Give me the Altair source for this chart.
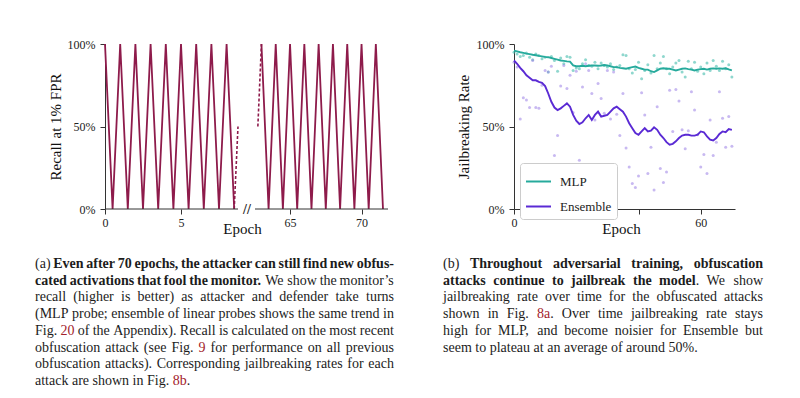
import altair as alt
import pandas as pd

# ------------------------------------------------------------------ data
# (a) recall zig-zag (broken x axis)
A_LEFT_EPOCH = [0, 0.5, 1, 1.5, 2, 2.5, 3, 3.5, 4, 4.5, 5, 5.5, 6, 6.5, 7, 7.5, 8, 8.5]
A_LEFT_RECALL = [100, 0, 100, 0, 100, 0, 100, 0, 100, 0, 100, 0, 100, 0, 100, 0, 100, 0]
A_RIGHT_EPOCH = [63, 63.5, 64, 64.5, 65, 65.5, 66, 66.5, 67, 67.5, 68, 68.5, 69, 69.5, 70, 70.5, 71, 71.5]
A_RIGHT_RECALL = [100, 0, 100, 0, 100, 0, 100, 0, 100, 0, 100, 0, 100, 0, 100, 0, 100, 0]
A_DASH1_EPOCH = [8.5, 8.75]
A_DASH1_RECALL = [0, 50]
A_DASH2_EPOCH = [62.75, 63]
A_DASH2_RECALL = [50, 100]
A_DOMAIN = [0, 8.75, 62.55, 71.85]
A_TICKS = [0, 5, 65, 70]
A_Y_TICKS = [0, 50, 100]

# (b) jailbreaking rate
B_EPOCH = [0, 1, 2, 3, 4, 5, 6, 7, 8, 9,
           10, 11, 12, 13, 14, 15, 16, 17, 18, 19,
           20, 21, 22, 23, 24, 25, 26, 27, 28, 29,
           30, 31, 32, 33, 34, 35, 36, 37, 38, 39,
           40, 41, 42, 43, 44, 45, 46, 47, 48, 49,
           50, 51, 52, 53, 54, 55, 56, 57, 58, 59,
           60, 61, 62, 63, 64, 65, 66, 67, 68, 69,
           70]
MLP_LINE = [96, 95.5, 95, 94.6, 94.2, 93.9, 93.5, 93.2, 92.8, 92.5,
            92.2, 92, 91.5, 91, 90.5, 90, 89.8, 89.5, 89.3, 87,
            86.5, 86.5, 86.8, 86.5, 86.8, 87, 87, 86.8, 87, 87.3,
            87, 86.5, 86, 86, 85.5, 85.3, 85, 85.5, 86, 86.3,
            85.5, 85, 84.5, 84.5, 83.5, 83, 84, 85, 85.3, 85,
            85, 84.5, 84, 84.5, 85, 85.2, 84.8, 84.5, 84, 84.5,
            84.8, 85, 84.5, 85, 85.2, 85, 85.2, 85, 85.3, 84.6,
            84]
ENS_LINE = [90, 88, 85.5, 83.5, 81, 79.5, 78, 78, 77, 76.5,
            74.5, 70, 65, 61.5, 60, 61, 62.5, 64, 62, 57,
            53.5, 51.5, 52.5, 55, 57, 54, 57, 59, 56, 56.5,
            57, 59, 61, 62, 60.5, 59, 56, 52, 49, 46,
            45, 47, 49, 47, 47.5, 49.5, 48, 45, 43, 40.5,
            39, 39.5, 41, 43, 44.5, 45, 45, 44.5, 44.5, 45,
            47, 46.5, 44, 42, 41.5, 43, 45.5, 47, 46.5, 48.5,
            48]
MLP_DOTS = [95, 94, 92.5, 93, 94.5, 92, 90.5, 94, 93, 91,
            92, 83, 92.5, 90, 83.5, 91.5, 88, 92.5, 92, 84,
            85.5, 85, 88, 90.5, 87, 86.5, 89, 85, 88.5, 87,
            86, 88, 84.5, 86, 87, 93.5, 93, 85, 82.5, 84.5,
            89, 79, 84, 87.5, 82.5, 93, 85, 88.5, 92.5, 85,
            82, 86, 88.5, 90, 83, 80, 89.5, 85, 89, 83.5,
            86, 82, 88.5, 84, 90, 86.5, 84, 89.5, 85, 87.5,
            80]
ENS_DOTS = [89, 86, 54.5, 67.5, 66, 61.5, 90, 61.5, 61, 75,
            84, 83, 86.5, 32.5, 44.5, 74.5, 87, 73, 81, 58.5,
            83.5, 29.5, 74, 88, 84, 70, 54, 76, 67, 58,
            84, 54.5, 83, 57.5, 44.5, 70, 37, 25.5, 15.5, 13,
            20, 70.5, 57, 21.5, 37.5, 11.5, 62, 24.5, 16, 22.5,
            72, 47, 72.5, 65.5, 48, 36.5, 47.5, 71, 60, 45,
            25.5, 33, 21.5, 54, 32.5, 40.5, 71, 55, 37.5, 56,
            38]
SERIES = ["MLP", "Ensemble"]
B_X_TICKS = [0, 20, 40, 60]
B_Y_TICKS = [0, 50, 100]

# captions (text runs; kind: n = normal, b = bold, r = reference link)
CAPTION_A = [
    ["(a) ", "Even after 70 epochs, the attacker can still find new obfus-"],
    ["cated activations that fool the monitor.", " We show the monitor\u2019s"],
    ["recall (higher is better) as attacker and defender take turns"],
    ["(MLP probe; ensemble of linear probes shows the same trend in"],
    ["Fig. ", "20", " of the Appendix). Recall is calculated on the most recent"],
    ["obfuscation attack (see Fig. ", "9", " for performance on all previous"],
    ["obfuscation attacks). Corresponding jailbreaking rates for each"],
    ["attack are shown in Fig. ", "8b", "."],
]
CAPTION_A_KIND = [["n", "b"], ["b", "n"], ["n"], ["n"], ["n", "r", "n"],
                  ["n", "r", "n"], ["n"], ["n", "r", "n"]]
CAPTION_B = [
    ["(b) ", "Throughout adversarial training, obfuscation"],
    ["attacks continue to jailbreak the model", ". We show"],
    ["jailbreaking rate over time for the obfuscated attacks"],
    ["shown in Fig. ", "8a", ". Over time jailbreaking rate stays"],
    ["high for MLP, and become noisier for Ensemble but"],
    ["seem to plateau at an average of around 50%."],
]
CAPTION_B_KIND = [["n", "b"], ["b", "n"], ["n"], ["n", "r", "n"], ["n"], ["n"]]

# ------------------------------------------------------------------ style / layout
FONT = "Liberation Serif"
AXIS_COLOR = "#333333"
TEXT_COLOR = "#1c1c1c"
LINK_COLOR = "#a3222b"
ZIGZAG = "#8e1b4b"
MLP_COLOR = "#26aa9c"
ENS_COLOR = "#5a2ad4"
MLP_DOT_COLOR = "#45bcae"
ENS_DOT_COLOR = "#9a80e6"

H = 165
A_W = 283
A_RANGE = [0, 133, 150, 283]
B_W = 221
COL_GAP = 126
CAP_H = 178
CAP_SIZE = 14
CAP_PITCH = 16.7

# Times metrics (Liberation Serif is metric compatible) for justification
_REG = {' ': 250, '(': 333, ')': 333, ',': 250, '-': 333, '.': 250, ';': 278, ':': 278,
        '%': 833, '\u2019': 333}
_BLD = {' ': 250, '(': 333, ')': 333, ',': 250, '-': 333, '.': 250, ';': 333, ':': 333,
        '%': 1000, '\u2019': 333}
for _c, _w in zip("ABCDEFGHIJKLMNOPQRSTUVWXYZ",
                  [722, 667, 667, 722, 611, 556, 722, 722, 333, 389, 722, 611, 889, 722, 722,
                   556, 722, 667, 556, 611, 722, 722, 944, 722, 722, 611]):
    _REG[_c] = _w
for _c, _w in zip("abcdefghijklmnopqrstuvwxyz",
                  [444, 500, 444, 500, 444, 333, 500, 500, 278, 278, 500, 278, 778, 500, 500,
                   500, 500, 333, 389, 278, 500, 500, 722, 500, 500, 444]):
    _REG[_c] = _w
for _c, _w in zip("ABCDEFGHIJKLMNOPQRSTUVWXYZ",
                  [722, 667, 722, 722, 667, 611, 778, 778, 389, 500, 778, 667, 944, 722, 778,
                   611, 778, 722, 556, 667, 722, 722, 1000, 722, 722, 667]):
    _BLD[_c] = _w
for _c, _w in zip("abcdefghijklmnopqrstuvwxyz",
                  [500, 556, 444, 556, 444, 333, 500, 556, 278, 333, 556, 278, 833, 556, 500,
                   556, 556, 444, 389, 333, 556, 500, 722, 500, 500, 444]):
    _BLD[_c] = _w


def text_width(t, kind, size):
    table = _BLD if kind == "b" else _REG
    return sum(table.get(ch, 500) for ch in t) * size / 1000.0


def layout_caption(lines, kinds, x0, x1, y0):
    rows = []
    for i, (segs, ks) in enumerate(zip(lines, kinds)):
        chars = [(ch, k) for s, k in zip(segs, ks) for ch in s]
        words, cur = [], []
        for ch, k in chars:
            if ch == " ":
                if cur:
                    words.append(cur)
                    cur = []
            elif cur and cur[-1][1] == k:
                cur[-1] = (cur[-1][0] + ch, k)
            else:
                cur.append((ch, k))
        if cur:
            words.append(cur)
        widths = [sum(text_width(t, k, CAP_SIZE) for t, k in w) for w in words]
        if i < len(lines) - 1 and len(words) > 1:
            gap = (x1 - x0 - sum(widths)) / (len(words) - 1)
        else:
            gap = 0.25 * CAP_SIZE
        x = x0
        for w, wd in zip(words, widths):
            px = x
            for t, k in w:
                rows.append({"x": px, "y": y0 + i * CAP_PITCH, "text": t, "kind": k})
                px += text_width(t, k, CAP_SIZE)
            x += wd + gap
    return rows


# ------------------------------------------------------------------ panel (a)
a_solid = pd.DataFrame({
    "epoch": A_LEFT_EPOCH + A_RIGHT_EPOCH,
    "recall": A_LEFT_RECALL + A_RIGHT_RECALL,
    "seg": ["left"] * len(A_LEFT_EPOCH) + ["right"] * len(A_RIGHT_EPOCH),
})
a_dash = pd.DataFrame({
    "epoch": A_DASH1_EPOCH + A_DASH2_EPOCH,
    "recall": A_DASH1_RECALL + A_DASH2_RECALL,
    "seg": ["d1"] * len(A_DASH1_EPOCH) + ["d2"] * len(A_DASH2_EPOCH),
})
a_axisline = pd.DataFrame({"epoch": [A_DOMAIN[0], A_DOMAIN[2]],
                           "epoch_end": [A_DOMAIN[1], A_DOMAIN[3]]})

xa_scale = alt.Scale(domain=A_DOMAIN, range=A_RANGE, nice=False, zero=False)
ya_scale = alt.Scale(domain=[0, 100], nice=False)
xa_axis = alt.Axis(values=A_TICKS, title="Epoch", domain=False, grid=False, format="d",
                   labelPadding=3, labelFlush=False,
                   titleX=137, titleY=24, titleBaseline="alphabetic")
ya_axis = alt.Axis(values=A_Y_TICKS, title="Recall at 1% FPR", grid=False,
                   labelExpr="datum.value + '%'", labelPadding=5, labelFlush=False,
                   titleX=-50, titleY=H / 2, titleBaseline="middle")

a_lines = alt.Chart(a_solid).mark_line(color=ZIGZAG, strokeWidth=1.8).encode(
    x=alt.X("epoch:Q", scale=xa_scale, axis=xa_axis),
    y=alt.Y("recall:Q", scale=ya_scale, axis=ya_axis),
    detail="seg:N",
    order="epoch:Q",
)
a_dashes = alt.Chart(a_dash).mark_line(color=ZIGZAG, strokeWidth=1.6, strokeDash=[3, 2]).encode(
    x=alt.X("epoch:Q", scale=xa_scale, axis=xa_axis),
    y=alt.Y("recall:Q", scale=ya_scale, axis=ya_axis),
    detail="seg:N",
)
a_axis_rules = alt.Chart(a_axisline).mark_rule(color=AXIS_COLOR, strokeWidth=1).encode(
    x=alt.X("epoch:Q", scale=xa_scale, axis=xa_axis),
    x2="epoch_end:Q",
    y=alt.value(H),
)
a_break = alt.Chart(pd.DataFrame({"t": ["//"]})).mark_text(
    font=FONT, fontSize=14, fontWeight="bold", color="#222222", align="center", baseline="middle"
).encode(text="t:N", x=alt.value(142), y=alt.value(H + 1))

chart_a = alt.layer(a_lines, a_dashes, a_axis_rules, a_break).properties(width=A_W, height=H)

# ------------------------------------------------------------------ panel (b)
b_lines_df = pd.DataFrame({
    "epoch": B_EPOCH + B_EPOCH,
    "rate": MLP_LINE + ENS_LINE,
    "series": [SERIES[0]] * len(B_EPOCH) + [SERIES[1]] * len(B_EPOCH),
})
b_mlp_dots = pd.DataFrame({"epoch": B_EPOCH, "rate": MLP_DOTS})
b_ens_dots = pd.DataFrame({"epoch": B_EPOCH, "rate": ENS_DOTS})

xb_scale = alt.Scale(domain=[0, 71], nice=False, zero=False)
yb_scale = alt.Scale(domain=[0, 100], nice=False)
xb_axis = alt.Axis(values=B_X_TICKS, title="Epoch", grid=False, format="d", labelPadding=3,
                   labelFlush=False,
                   labelExpr="(datum.value == 0 || datum.value == 60) ? datum.label : ''",
                   titleX=107, titleY=24, titleBaseline="alphabetic")
yb_axis = alt.Axis(values=B_Y_TICKS, title="Jailbreaking Rate", grid=False,
                   labelExpr="datum.value + '%'", labelPadding=5, labelFlush=False,
                   titleX=-51, titleY=H / 2, titleBaseline="middle")

dots_mlp = alt.Chart(b_mlp_dots).mark_circle(size=9, color=MLP_DOT_COLOR, opacity=0.6).encode(
    x=alt.X("epoch:Q", scale=xb_scale, axis=xb_axis),
    y=alt.Y("rate:Q", scale=yb_scale, axis=yb_axis),
)
dots_ens = alt.Chart(b_ens_dots).mark_circle(size=9, color=ENS_DOT_COLOR, opacity=0.55).encode(
    x=alt.X("epoch:Q", scale=xb_scale, axis=xb_axis),
    y=alt.Y("rate:Q", scale=yb_scale, axis=yb_axis),
)
b_lines = alt.Chart(b_lines_df).mark_line(strokeWidth=1.9).encode(
    x=alt.X("epoch:Q", scale=xb_scale, axis=xb_axis),
    y=alt.Y("rate:Q", scale=yb_scale, axis=yb_axis),
    color=alt.Color(
        "series:N",
        scale=alt.Scale(domain=SERIES, range=[MLP_COLOR, ENS_COLOR]),
        legend=alt.Legend(
            orient="none", legendX=A_W + COL_GAP + 6, legendY=119, title=None,
            fillColor="white", strokeColor="#cccccc", cornerRadius=3, padding=5,
            symbolType="stroke", symbolSize=625, symbolStrokeWidth=2,
            labelFont=FONT, labelFontSize=13, labelColor="#1c1c1c", labelOffset=8,
            rowPadding=4,
        ),
    ),
    order="epoch:Q",
)
chart_b = alt.layer(dots_mlp, dots_ens, b_lines).properties(width=B_W, height=H)

# ------------------------------------------------------------------ captions
cap_a_df = pd.DataFrame(layout_caption(CAPTION_A, CAPTION_A_KIND, -70, 289, 59))
cap_b_df = pd.DataFrame(layout_caption(CAPTION_B, CAPTION_B_KIND, -71, 249, 59))


def cap_layer(df, kind, weight, color):
    return alt.Chart(df).transform_filter(alt.datum.kind == kind).mark_text(
        font=FONT, fontSize=CAP_SIZE, fontWeight=weight, color=color,
        align="left", baseline="alphabetic",
    ).encode(
        x=alt.X("x:Q", scale=None, axis=None),
        y=alt.Y("y:Q", scale=None, axis=None),
        text="text:N",
    )


def caption_chart(df, width):
    return alt.layer(
        cap_layer(df, "n", "normal", TEXT_COLOR),
        cap_layer(df, "b", "bold", TEXT_COLOR),
        cap_layer(df, "r", "normal", LINK_COLOR),
    ).properties(width=width, height=CAP_H)


cap_a = caption_chart(cap_a_df, A_W)
cap_b = caption_chart(cap_b_df, B_W)

# ------------------------------------------------------------------ assemble
chart = alt.concat(
    chart_a, chart_b, cap_a, cap_b,
    columns=2, spacing={"row": 0, "column": COL_GAP}, bounds="flush",
).properties(
    padding={"left": 27, "top": 30, "right": 2, "bottom": 2},
    background="white",
).configure_view(
    stroke=None
).configure_axis(
    labelFont=FONT, titleFont=FONT, labelFontSize=12, titleFontSize=15,
    titleFontWeight="normal", labelColor="#222222", titleColor="#111111",
    domainColor=AXIS_COLOR, tickColor=AXIS_COLOR, tickSize=5, domainWidth=1, tickWidth=1,
).configure_legend(
    labelFont=FONT, labelFontSize=13, labelColor="#1c1c1c",
)

chart.save("out.html", embed_options={"renderer": "svg", "actions": False})
